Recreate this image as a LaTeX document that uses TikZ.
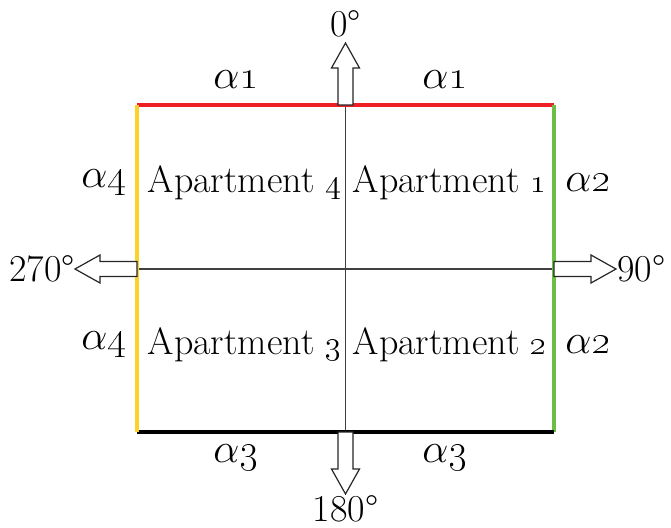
\documentclass[tikz,border=0pt]{standalone}
\usepackage[dvipsnames]{xcolor}
\definecolor{sidered}{RGB}{237,30,36}
\definecolor{sidegreen}{RGB}{108,190,70}
\definecolor{sideyellow}{RGB}{250,210,40}

\begin{document}
\begin{tikzpicture}[x=0.5pt,y=0.5pt]
    \pgfmathsetmacro{\shaft}{7.5}
    \pgfmathsetmacro{\head}{14}
    \tikzset{every node/.style={font=\fontsize{19}{22}\selectfont,inner sep=0pt},
        side/.style={line width=2.4pt},
        axis/.style={line width=0.6pt,black!75},
        alabel/.style={font=\fontsize{21}{25}\selectfont},
        dirarrow/.pic={\draw[line width=0.6pt,draw=black!85,fill=white] (0,-\shaft) -- (37,-\shaft) -- (37,-\head) -- (62,0) -- (37,\head) -- (37,\shaft) -- (0,\shaft) -- cycle;}}
    \useasboundingbox (0,0) rectangle (671,527);
    \coordinate (nw) at (137,422);
    \coordinate (ne) at (554,422);
    \coordinate (sw) at (137,95);
    \coordinate (se) at (554,95);
    \coordinate (n) at (345.5,422);
    \coordinate (s) at (345.5,95);
    \coordinate (w) at (137,258);
    \coordinate (e) at (554,258);
\draw[axis] (n) -- (s);
\draw[axis] (w) -- (e);
\draw[side,sidered] (nw) -- (ne);
\draw[side,sidegreen] (ne) -- (se);
\draw[side,black] (se) -- (sw);
\draw[side,sideyellow] (sw) -- (nw);
\pic[rotate=90] at (n) {dirarrow};
\pic at (e) {dirarrow};
\pic[rotate=-90] at (s) {dirarrow};
\pic[rotate=180] at (w) {dirarrow};
\node (deg0) at (345.5,503) {0\textdegree};
\node[anchor=west] (deg90) at (617,258) {90\textdegree};
\node[anchor=south] (deg180) at (345.5,4) {180\textdegree};
\node[anchor=east] (deg270) at (75,258) {270\textdegree};
\node (apt4) at (245,344) {Apartment \oldstylenums{4}};
\node (apt1) at (450,344) {Apartment \oldstylenums{1}};
\node (apt3) at (245,182) {Apartment \oldstylenums{3}};
\node (apt2) at (450,182) {Apartment \oldstylenums{2}};
\node[alabel] (a1l) at (236,447) {$\alpha$\oldstylenums{1}};
\node[alabel] (a1r) at (445,447) {$\alpha$\oldstylenums{1}};
\node[alabel] (a2t) at (588,344) {$\alpha$\oldstylenums{2}};
\node[alabel] (a2b) at (588,182) {$\alpha$\oldstylenums{2}};
\node[alabel] (a3l) at (236,69) {$\alpha$\oldstylenums{3}};
\node[alabel] (a3r) at (445,69) {$\alpha$\oldstylenums{3}};
\node[alabel] (a4t) at (104,344) {$\alpha$\oldstylenums{4}};
\node[alabel] (a4b) at (104,182) {$\alpha$\oldstylenums{4}};

\end{tikzpicture}
\end{document}
